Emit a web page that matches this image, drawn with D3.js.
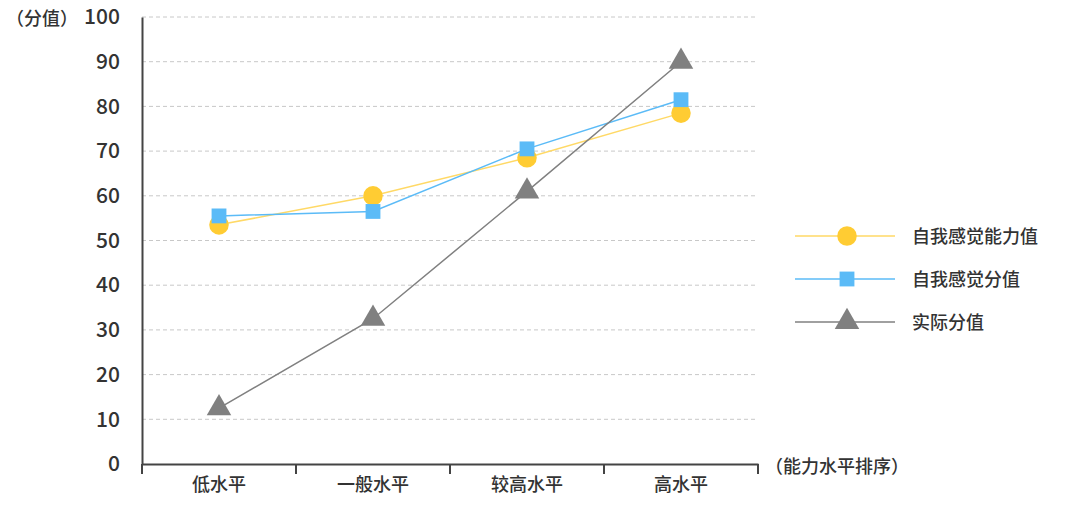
<!DOCTYPE html>
<html><head><meta charset="utf-8">
<script src="https://cdn.jsdelivr.net/npm/d3@7"></script>
<style>body{margin:0;background:#fff}text{font-family:"Noto Sans CJK SC","Noto Sans",sans-serif;font-weight:500}</style>
</head><body><svg id="c" width="1080" height="508"></svg>
<script>
var categories = ['低水平','一般水平','较高水平','高水平'];
var selfAbility = [53.5, 60, 68.5, 78.5];
var selfScore = [55.5, 56.5, 70.5, 81.5];
var actualScore = [12.5, 32.5, 61, 90];
var yTicks = [0,10,20,30,40,50,60,70,80,90,100];
var series = [
	{name:'自我感觉能力值', values:selfAbility, color:'#FFCC33', line:'#FFD966', shape:d3.symbolCircle, size:300},
	{name:'自我感觉分值', values:selfScore, color:'#5BBBF7', line:'#5BBBF7', shape:d3.symbolSquare, size:220},
	{name:'实际分值', values:actualScore, color:'#808080', line:'#808080', shape:d3.symbolTriangle, size:260}
];

var svg = d3.select('#c');
var x = d3.scaleBand().domain(categories).range([142,758]);
var y = d3.scaleLinear().domain([0,100]).range([464,17]);

// grid
svg.selectAll('.grid').data(yTicks.slice(1)).enter().append('line')
	.attr('x1',142).attr('x2',758).attr('y1',function(d){return y(d)}).attr('y2',function(d){return y(d)})
	.attr('stroke','#c8c8c8').attr('stroke-dasharray','4,3');

// y axis
var ya = svg.append('g').attr('transform','translate(142,0)')
	.call(d3.axisLeft(y).tickValues(yTicks).tickSize(0).tickPadding(22));
ya.select('.domain').attr('stroke','#444').attr('stroke-width',2);
ya.selectAll('text').attr('font-size',21).attr('fill','#333');

// x axis
var xa = svg.append('g').attr('transform','translate(0,464)')
	.call(d3.axisBottom(x).tickSize(0).tickPadding(14));
xa.select('.domain').attr('stroke','#444').attr('stroke-width',2);
xa.selectAll('text').attr('font-size',18).attr('fill','#333');
svg.selectAll('.xt').data(d3.range(categories.length+1)).enter().append('line')
	.attr('x1',function(i){return 142+i*x.step()}).attr('x2',function(i){return 142+i*x.step()})
	.attr('y1',464).attr('y2',474).attr('stroke','#444').attr('stroke-width',2);

svg.append('text').attr('x',6).attr('y',25).attr('font-size',18).attr('fill','#333').text('（分值）');
svg.append('text').attr('x',765).attr('y',473).attr('font-size',18).attr('fill','#333').text('（能力水平排序）');

var line = d3.line().x(function(d,i){return x(categories[i])+x.bandwidth()/2}).y(function(d){return y(d)});
series.forEach(function(s){
	svg.append('path').attr('d',line(s.values)).attr('fill','none').attr('stroke',s.line).attr('stroke-width',1.5);
	svg.selectAll(null).data(s.values).enter().append('path')
		.attr('d',d3.symbol().type(s.shape).size(s.size))
		.attr('transform',function(d,i){return 'translate('+(x(categories[i])+x.bandwidth()/2)+','+y(d)+')'})
		.attr('fill',s.color);
});

// legend
var lg = svg.selectAll('.lg').data(series).enter().append('g')
	.attr('transform',function(d,i){return 'translate(795,'+(236+i*43)+')'});
lg.append('line').attr('x1',0).attr('x2',100).attr('stroke',function(d){return d.line}).attr('stroke-width',1.5);
lg.append('path').attr('d',function(d){return d3.symbol().type(d.shape).size(d.size)()})
	.attr('transform','translate(52,0)').attr('fill',function(d){return d.color});
lg.append('text').attr('x',117).attr('y',7).attr('font-size',18).attr('fill','#333').text(function(d){return d.name});
</script></body></html>
